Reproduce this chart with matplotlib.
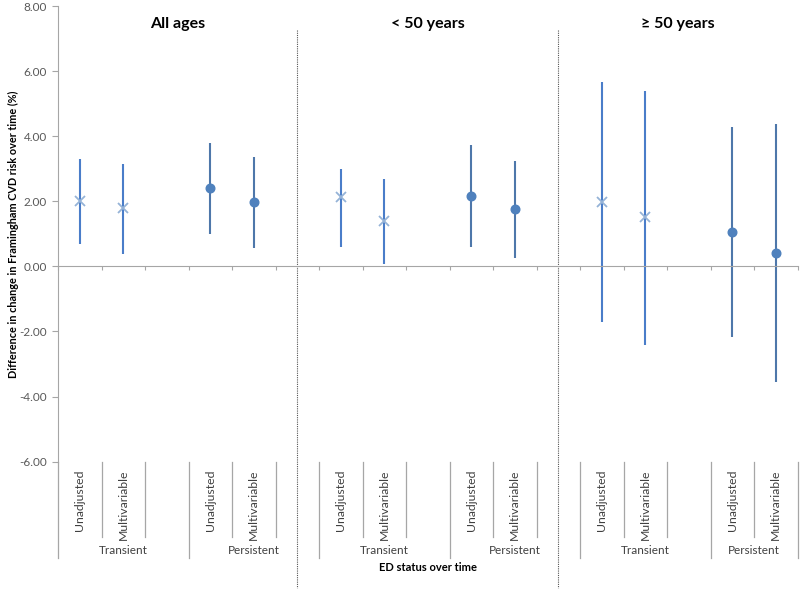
import numpy as np
import matplotlib
matplotlib.use("Agg")
import matplotlib.pyplot as plt

plt.rcParams["font.family"] = ["Lato", "DejaVu Sans"]
plt.rcParams["axes.unicode_minus"] = False

# values
panels = ["All ages", "< 50 years", "\u2265 50 years"]
groups = ["Transient", "Persistent"]
models = ["Unadjusted", "Multivariable"]

# [panel][Unadjusted, Multivariable]
est_transient = [[2.02, 1.78], [2.14, 1.40], [1.97, 1.51]]
lo_transient = [[0.69, 0.38], [0.60, 0.08], [-1.71, -2.40]]
hi_transient = [[3.31, 3.16], [2.98, 2.67], [5.67, 5.39]]

est_persistent = [[2.41, 1.97], [2.16, 1.77], [1.05, 0.41]]
lo_persistent = [[1.01, 0.57], [0.60, 0.26], [-2.17, -3.56]]
hi_persistent = [[3.78, 3.37], [3.72, 3.24], [4.28, 4.39]]

n_slots = 17
grey = "#A6A6A6"
txt = "#404040"

fig = plt.figure(figsize=(8, 5.9), dpi=100)
ax = fig.add_axes([0.0725, 0.2175, 0.9244, 0.7723])
ax.set_xlim(-0.5, n_slots - 0.5)
ax.set_ylim(-6, 8)

series = [
    (est_transient, lo_transient, hi_transient, 0, "#4A7DC9", "x", "#95B3D7"),
    (est_persistent, lo_persistent, hi_persistent, 3, "#4E77AA", "o", "#4F81BD"),
]
for est, lo, hi, shift, lc, mk, mc in series:
    for p in range(len(panels)):
        xs = np.arange(2) + 6 * p + shift
        e = np.array(est[p])
        l = np.array(lo[p])
        h = np.array(hi[p])
        ax.vlines(xs, l, h, color=lc, lw=1.5, zorder=2)
        if mk == "x":
            ax.plot(xs, e, ls="none", marker="x", ms=6.5, mew=1.3, color=mc, zorder=3)
        else:
            ax.plot(xs, e, ls="none", marker="o", ms=6.2, color=mc, zorder=3)

# axes styling
for s in ["top", "right"]:
    ax.spines[s].set_visible(False)
ax.spines["left"].set_color(grey)
ax.spines["bottom"].set_color(grey)
ax.spines["bottom"].set_position(("data", 0))
ax.set_yticks(np.arange(-6, 9, 2))
ax.set_yticklabels([f"{v:.2f}" for v in np.arange(-6, 9, 2)])
ax.tick_params(axis="y", colors=grey, labelcolor="#595959", labelsize=8.5, length=4, pad=4)
ax.set_xticks(np.arange(n_slots + 1) - 0.5)
ax.set_xticklabels([])
ax.tick_params(axis="x", colors=grey, length=3, direction="out")

tr = ax.get_xaxis_transform()

# panel separators and titles
for p, name in enumerate(panels):
    start = 6 * p - 0.5 if p == 0 else 6 * p - 1
    end = 6 * p + 5 if p < 2 else n_slots - 0.5
    ax.text((start + end) / 2, 0.96, name, transform=tr, ha="center", va="center",
            fontsize=11.5, fontweight="bold", color="black")
    if p < 2:
        ax.plot([end, end], [0.947, -0.277], transform=tr, color="#555555",
                lw=0.8, ls=(0, (1, 1)), clip_on=False)

# category lines under the plot
group_edges = [-0.5, 2.5, 5.5, 8.5, 11.5, 14.5, 16.5]
for b in np.arange(n_slots + 1) - 0.5:
    bottom = -0.211 if b in group_edges else -0.165
    ax.plot([b, b], [0, bottom], transform=tr, color=grey, lw=0.9, clip_on=False)

for p in range(len(panels)):
    for g, gname in enumerate(groups):
        base = 6 * p + 3 * g
        for m, mname in enumerate(models):
            ax.text(base + m, -0.018, mname, transform=tr, rotation=90, ha="center",
                    va="top", fontsize=8.8, color=txt)
        left = base - 0.5
        right = min(base + 2.5, n_slots - 0.5)
        ax.text((left + right) / 2, -0.196, gname, transform=tr, ha="center",
                va="center", fontsize=8.5, color=txt)

ax.text((n_slots - 1) / 2, -0.233, "ED status over time", transform=tr, ha="center",
        va="center", fontsize=8, fontweight="bold", color="black")

fig.text(13 / 800, 1 - 234 / 590, "Difference in change in Framingham CVD risk over time (%)",
         rotation=90, ha="center", va="center", fontsize=7.8, fontweight="bold")

fig.savefig("out.png", dpi=100)
